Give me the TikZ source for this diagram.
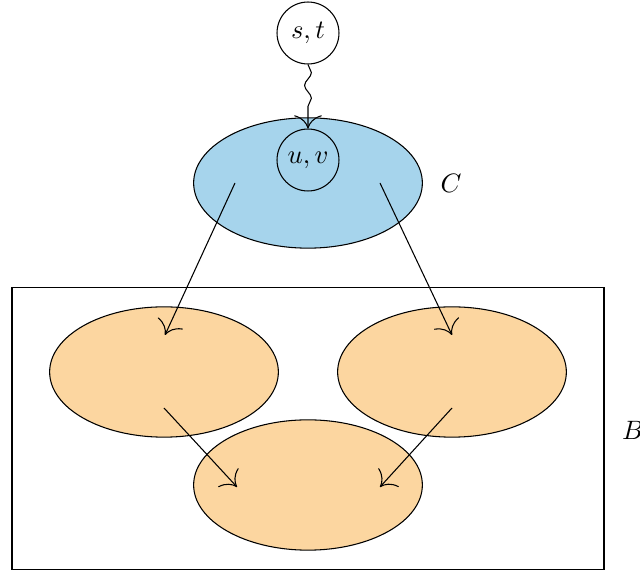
\documentclass[tikz,border=0pt]{standalone}
\usetikzlibrary{shapes.geometric,decorations.pathmorphing,arrows.meta}
\definecolor{cblue}{RGB}{166,212,236}
\definecolor{borange}{RGB}{252,214,160}
\begin{document}
\begin{tikzpicture}[x=0.376pt, y=-0.376pt, >={To[scale=2]},
        vertex/.style={circle, draw, minimum size=23.3pt, inner sep=0pt},
        blob/.style={ellipse, draw, minimum width=86pt, minimum height=49pt, inner sep=0pt},
        wave/.style={decorate, decoration={snake, amplitude=0.45mm, segment length=3.4mm, post length=2mm}}]
                \useasboundingbox (0,0) rectangle (640,576);
                % Box B
                \node[draw, minimum width=222.6pt, minimum height=105.7pt, inner sep=0pt] at (308, 428.5) (boxB) {};
                \node at (633, 430) (labB) {$B$};

                % Ellipses
                \node[blob, fill=cblue] at (308, 183)  (C)    {};
                \node[blob, fill=borange] at (164, 372)  (L)    {};
                \node[blob, fill=borange] at (452, 372)  (R)    {};
                \node[blob, fill=borange] at (308, 485)  (D)    {};
                \node at (451, 183) (labC) {$C$};

                % Vertices
                \node[vertex, fill=white] at (308, 33)  (st)    {$s,t$};
                \node[vertex] at (308, 160)  (uv)    {$u,v$};

                % Arrow ends
                \coordinate (cl) at (235, 183);
                \coordinate (cr) at (380, 183);
                \coordinate (lt) at (165, 335);
                \coordinate (rt) at (452, 335);
                \coordinate (lb) at (164, 408);
                \coordinate (rb) at (452, 408);
                \coordinate (dl) at (237, 487);
                \coordinate (dr) at (380, 487);

                \draw[->, wave]  (st) -- (uv);
                \draw[->]  (cl) -- (lt);
                \draw[->]  (cr) -- (rt);
                \draw[->]  (lb) -- (dl);
                \draw[->]  (rb) -- (dr);
            \end{tikzpicture}
\end{document}
